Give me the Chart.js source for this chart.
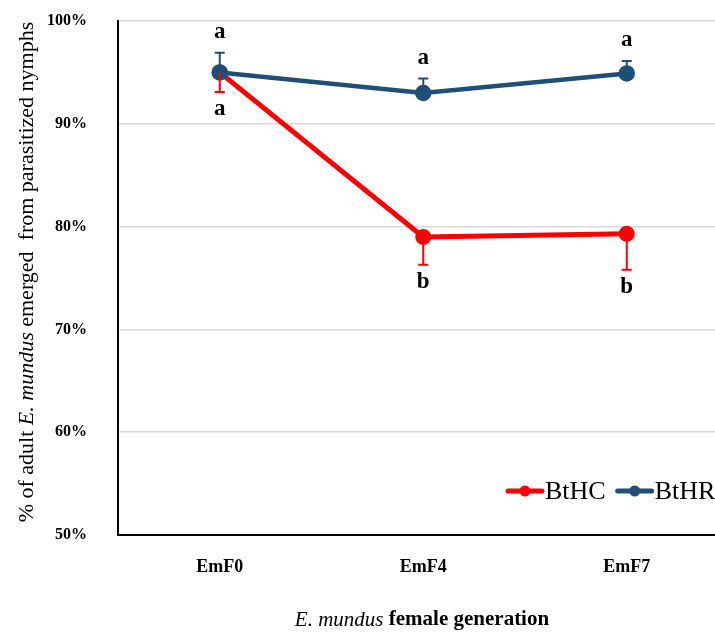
<!DOCTYPE html>
<html>
<head>
<meta charset="utf-8">
<script src="https://cdn.jsdelivr.net/npm/chart.js@4"></script>
<style>
  html, body { margin: 0; padding: 0; background: #fff; overflow: hidden; }
  #wrap { width: 715px; height: 632px; overflow: hidden; }
</style>
</head>
<body>
<div id="wrap"><canvas id="chart" width="739" height="632"></canvas></div>
<script>
const categories = ['EmF0', 'EmF4', 'EmF7'];
const seriesNames = ['BtHC', 'BtHR'];
const btHC = [95.0, 79.0, 79.3];
const btHCErr = [1.9, 2.7, 3.5];
const btHR = [95.0, 93.0, 94.9];
const btHRErr = [1.9, 1.4, 1.2];
const btHCLetters = ['a', 'b', 'b'];
const btHRLetters = ['a', 'a', 'a'];
const yTicks = [50, 60, 70, 80, 90, 100];

const RED = '#FF0000';
const BLUE = '#1F4E79';
const SERIF = '"Liberation Serif", "DejaVu Serif", serif';

// error bars (red below, blue above) plus the significance letters
const errorBars = {
    id: 'errorBars',
    afterDatasetsDraw(chart) {
        const { ctx, scales: { x, y } } = chart;
        ctx.save();
        chart.data.datasets.forEach(ds => {
            const dir = ds.errDir;
            ds.data.forEach((v, i) => {
                const px = x.getPixelForValue(i);
                const y0 = y.getPixelForValue(v);
                const y1 = y.getPixelForValue(v + dir * ds.err[i]);
                ctx.strokeStyle = ds.borderColor;
                ctx.lineWidth = 2;
                ctx.beginPath();
                ctx.moveTo(px, y0);
                ctx.lineTo(px, y1);
                ctx.moveTo(px - 5, y1);
                ctx.lineTo(px + 5, y1);
                ctx.stroke();

                ctx.fillStyle = '#000';
                ctx.font = 'bold 23px ' + SERIF;
                ctx.textAlign = 'center';
                ctx.textBaseline = 'middle';
                const off = dir > 0 ? -21 : 17;
                ctx.fillText(ds.letters[i], px, y1 + off);
            });
        });
        ctx.restore();
    }
};

// draws runs of text with mixed font styles, centred on (0,0)
function drawRuns(ctx, runs, size) {
    let total = 0;
    runs.forEach(r => {
        ctx.font = r.style + ' ' + size + 'px ' + SERIF;
        r.w = ctx.measureText(r.text).width;
        total += r.w;
    });
    let cx = -total / 2;
    runs.forEach(r => {
        ctx.font = r.style + ' ' + size + 'px ' + SERIF;
        ctx.fillText(r.text, cx, 0);
        cx += r.w;
    });
}

const axisTitles = {
    id: 'axisTitles',
    afterDraw(chart) {
        const { ctx } = chart;
        ctx.save();
        ctx.fillStyle = '#000';
        ctx.textAlign = 'left';
        ctx.textBaseline = 'middle';

        // y title
        ctx.save();
        ctx.translate(27, 272);
        ctx.rotate(-Math.PI / 2);
        drawRuns(ctx, [
            { text: '% of adult ', style: 'normal' },
            { text: 'E. mundus', style: 'italic' },
            { text: ' emerged  from parasitized nymphs', style: 'normal' }
        ], 22);
        ctx.restore();

        // x title
        ctx.save();
        ctx.translate(422, 620);
        drawRuns(ctx, [
            { text: 'E. mundus', style: 'italic' },
            { text: ' female generation', style: 'bold' }
        ], 21);
        ctx.restore();

        // legend
        let lx = 508;
        const ly = 491;
        ctx.font = '26px ' + SERIF;
        chart.data.datasets.forEach(ds => {
            ctx.strokeStyle = ds.borderColor;
            ctx.lineWidth = 5;
            ctx.lineCap = 'round';
            ctx.beginPath();
            ctx.moveTo(lx, ly);
            ctx.lineTo(lx + 34, ly);
            ctx.stroke();
            ctx.fillStyle = ds.borderColor;
            ctx.beginPath();
            ctx.arc(lx + 17, ly, 5.5, 0, Math.PI * 2);
            ctx.fill();
            ctx.fillStyle = '#000';
            ctx.fillText(ds.label, lx + 37, ly + 1);
            lx += 37 + ctx.measureText(ds.label).width + 12;
        });
        ctx.restore();
    }
};

const config = {
    type: 'line',
    data: {
        labels: categories,
        datasets: [
            {
                label: seriesNames[0],
                data: btHC,
                err: btHCErr,
                errDir: -1,
                letters: btHCLetters,
                borderColor: RED,
                backgroundColor: RED,
                borderWidth: 5,
                pointRadius: 5.5,
                pointHoverRadius: 5.5,
                tension: 0,
                order: 2
            },
            {
                label: seriesNames[1],
                data: btHR,
                err: btHRErr,
                errDir: 1,
                letters: btHRLetters,
                borderColor: BLUE,
                backgroundColor: BLUE,
                borderWidth: 4.5,
                pointRadius: 6,
                pointHoverRadius: 6,
                tension: 0,
                order: 1
            }
        ]
    },
    options: {
        responsive: false,
        animation: false,
        layout: { padding: { top: 21, right: 3, left: 0, bottom: 0 } },
        plugins: {
            legend: { display: false },
            tooltip: { enabled: false }
        },
        scales: {
            x: {
                offset: true,
                grid: { display: false },
                border: { display: true, color: '#000', width: 2 },
                ticks: {
                    color: '#000',
                    padding: 14,
                    font: { family: SERIF, size: 18, weight: 'bold' }
                },
                afterFit(scale) { scale.height = 97; }
            },
            y: {
                min: 50,
                max: 100,
                afterBuildTicks(scale) {
                    scale.ticks = yTicks.map(v => ({ value: v }));
                },
                grid: {
                    color: '#D9D9D9',
                    lineWidth: 1.5,
                    drawTicks: true,
                    tickLength: 31,
                    tickColor: 'rgba(0,0,0,0)'
                },
                border: { display: true, color: '#000', width: 2 },
                ticks: {
                    color: '#000',
                    padding: 0,
                    font: { family: SERIF, size: 16, weight: 'bold' },
                    callback: v => v + '%'
                },
                afterFit(scale) { scale.width = 118; }
            }
        }
    },
    plugins: [errorBars, axisTitles]
};

const myChart = new Chart('chart', config);
</script>
</body>
</html>
